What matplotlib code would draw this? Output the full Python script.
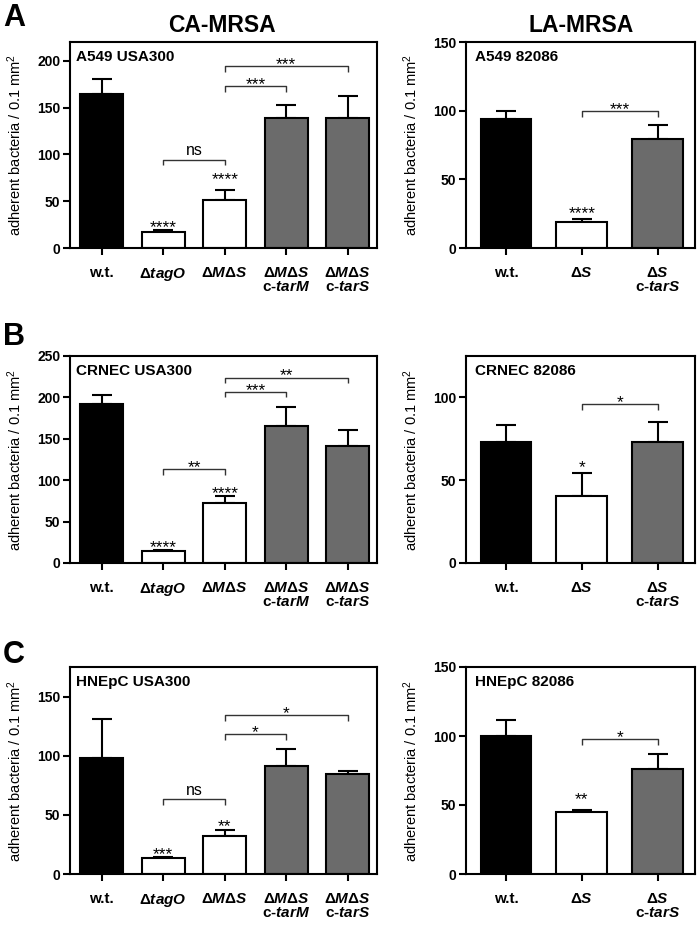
import matplotlib
matplotlib.use("Agg")
from matplotlib import pyplot as plt

plt.rcParams.update({
    "font.family": ["Liberation Sans", "DejaVu Sans"],
    "mathtext.fontset": "custom",
    "mathtext.rm": "Liberation Sans",
    "mathtext.it": "Liberation Sans:italic:bold",
    "mathtext.bf": "Liberation Sans:bold",
})

# groups
ca_labels = ["w.t.", r"Δ$\mathit{tagO}$", r"Δ$\mathit{M}$Δ$\mathit{S}$",
             "Δ$\\mathit{M}$Δ$\\mathit{S}$\nc-$\\mathit{tarM}$",
             "Δ$\\mathit{M}$Δ$\\mathit{S}$\nc-$\\mathit{tarS}$"]
la_labels = ["w.t.", r"Δ$\mathit{S}$", "Δ$\\mathit{S}$\nc-$\\mathit{tarS}$"]
ca_colors = ["black", "white", "white", "#6b6b6b", "#6b6b6b"]
la_colors = ["black", "white", "#6b6b6b"]

# A549
a_ca_mean = [165, 17, 51, 139, 139]
a_ca_err = [15, 2, 11, 14, 23]
a_la_mean = [94, 19, 79.5]
a_la_err = [6, 2, 10]
# CRNEC
b_ca_mean = [192, 15, 72, 165, 141]
b_ca_err = [10.5, 1.2, 8.4, 23, 20]
b_la_mean = [73.3, 40.3, 72.9]
b_la_err = [10.2, 14.3, 12.2]
# HNEpC
c_ca_mean = [98.3, 13.6, 32.2, 91, 84.5]
c_ca_err = [32.7, 0.8, 4.8, 14.6, 2.8]
c_la_mean = [99.8, 45.2, 76.3]
c_la_err = [12, 1.4, 10.9]

# brackets: (from, to, y, label)
a_ca_br = [(1, 2, 94.5, "ns"), (2, 3, 173, "***"), (2, 4, 194, "***")]
a_la_br = [(1, 2, 99.5, "***")]
b_ca_br = [(1, 2, 113, "**"), (2, 3, 207, "***"), (2, 4, 224, "**")]
b_la_br = [(1, 2, 96, "*")]
c_ca_br = [(1, 2, 63, "ns"), (2, 3, 118.4, "*"), (2, 4, 134.5, "*")]
c_la_br = [(1, 2, 97.8, "*")]

# stars over single bars: (bar, y centre, label)
a_ca_st = [(1, 27.8, "****"), (2, 79.5, "****")]
a_la_st = [(1, 28.8, "****")]
b_ca_st = [(1, 25.4, "****"), (2, 90, "****")]
b_la_st = [(1, 61, "*")]
c_ca_st = [(1, 21.2, "***"), (2, 44.6, "**")]
c_la_st = [(1, 58, "**")]

W, H = 700, 926
LW = 1.5
fig = plt.figure(figsize=(W / 100, H / 100), dpi=100)


def sig(ax, x, y, s, above):
    # y is where the label sits; asterisks ride high in the font
    if s == "ns":
        ax.annotate(s, (x, y), xytext=(0, 3.3 if above else -3.1),
                    textcoords="offset points", ha="center", va="baseline",
                    fontsize=11.5)
    else:
        ax.annotate(s, (x, y), xytext=(0, -2.2 if above else -7.3),
                    textcoords="offset points", ha="center", va="baseline",
                    fontsize=12.5)


def panel(top, bottom, left_px, right_px, labels, colors, mean, err, ymax,
          yticks, title, brackets, stars, width, ylab_off):
    ax = fig.add_axes([left_px / W, 1 - bottom / H, (right_px - left_px) / W,
                       (bottom - top) / H])
    n = len(labels)
    x = list(range(n))
    ax.bar(x, mean, width=width, color=colors, edgecolor="black",
           linewidth=LW, zorder=2)
    ax.errorbar(x, mean, yerr=[[0] * n, err], fmt="none", ecolor="black",
                elinewidth=LW, capsize=7, capthick=LW, zorder=1)
    ax.set_ylim(0, ymax)
    ax.set_yticks(yticks)
    ax.set_xticks(x)
    ax.set_xticklabels(labels, fontsize=11, fontweight="bold", linespacing=1.0)
    for t in ax.get_yticklabels():
        t.set_fontweight("bold")
        t.set_fontsize(10)
    if n == 5:
        ax.set_xlim(-0.515, 4.475)
    else:
        ax.set_xlim(-0.526, 2.49)
    for sp in ax.spines.values():
        sp.set_linewidth(LW)
    ax.tick_params(axis="y", direction="out", length=5, width=LW, pad=2)
    ax.tick_params(axis="x", direction="out", length=5, width=LW, pad=8)
    ax.set_ylabel("adherent bacteria / 0.1 mm$^{2}$", fontsize=10.5)
    ax.yaxis.set_label_coords(ylab_off, 0.5)
    ax.text(0.02 if n == 5 else 0.04, 0.927, title, transform=ax.transAxes,
            fontsize=11, fontweight="bold", va="center", ha="left")
    drop = 0.028 * ymax
    for i, j, y, s in brackets:
        ax.plot([i, i, j, j], [y - drop, y, y, y - drop], color="#333333",
                lw=1.0, solid_capstyle="butt")
        sig(ax, (i + j) / 2, y, s, True)
    for i, y, s in stars:
        sig(ax, i, y, s, False)
    return ax


panel(42, 248, 70, 377, ca_labels, ca_colors, a_ca_mean, a_ca_err, 220,
      [0, 50, 100, 150, 200], "A549 USA300", a_ca_br, a_ca_st, 0.70, -0.15)
panel(42, 248, 466, 695, la_labels, la_colors, a_la_mean, a_la_err, 150,
      [0, 50, 100, 150], "A549 82086", a_la_br, a_la_st, 0.67, -0.2)
panel(356, 563, 70, 377, ca_labels, ca_colors, b_ca_mean, b_ca_err, 250,
      [0, 50, 100, 150, 200, 250], "CRNEC USA300", b_ca_br, b_ca_st, 0.70, -0.15)
panel(356, 563, 466, 695, la_labels, la_colors, b_la_mean, b_la_err, 125,
      [0, 50, 100], "CRNEC 82086", b_la_br, b_la_st, 0.67, -0.2)
panel(667, 874, 70, 377, ca_labels, ca_colors, c_ca_mean, c_ca_err, 175,
      [0, 50, 100, 150], "HNEpC USA300", c_ca_br, c_ca_st, 0.70, -0.15)
panel(667, 874, 466, 695, la_labels, la_colors, c_la_mean, c_la_err, 150,
      [0, 50, 100, 150], "HNEpC 82086", c_la_br, c_la_st, 0.67, -0.2)

fig.text(222 / W, 1 - 25 / H, "CA-MRSA", ha="center", va="center",
         fontsize=16.5, fontweight="bold")
fig.text(581 / W, 1 - 25 / H, "LA-MRSA", ha="center", va="center",
         fontsize=16.5, fontweight="bold")
for letter, yc in [("A", 18), ("B", 337), ("C", 655)]:
    fig.text(3 / W, 1 - yc / H, letter, ha="left", va="center",
             fontsize=22, fontweight="bold")

fig.savefig("out.png", dpi=100)
